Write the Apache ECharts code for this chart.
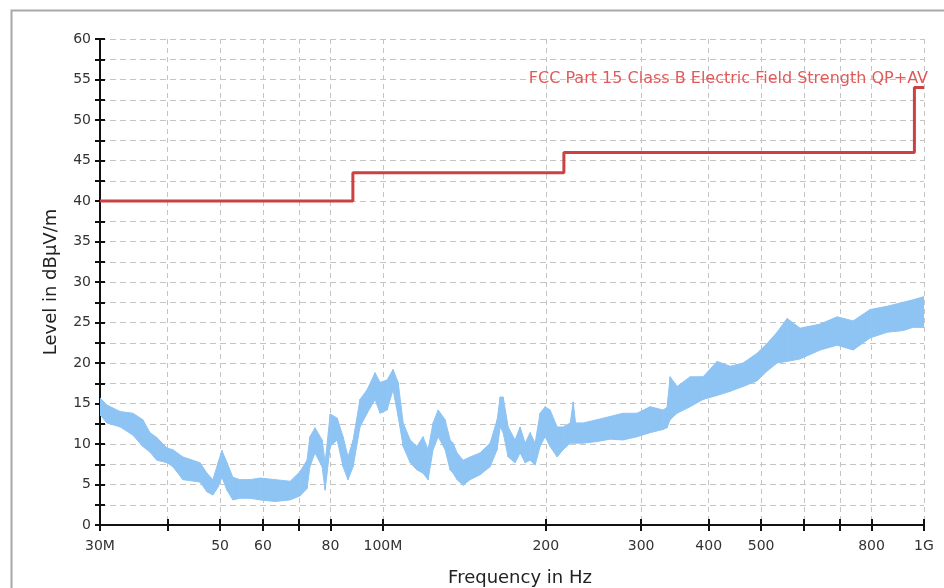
<!DOCTYPE html>
<html><head><meta charset="utf-8">
<script src="https://cdn.jsdelivr.net/npm/echarts@6/dist/echarts.min.js"></script>
<style>html,body{margin:0;padding:0;background:#fff}#c{width:944px;height:588px}</style>
</head><body><div id="c"></div>
<script>
// Measured trace (envelope of the noisy sweep), frequency in MHz, level in dBµV/m
const freqMHz = [30.0,30.9,32.7,34.5,36.0,37.1,38.2,39.9,40.9,42.7,45.9,47.3,48.5,49.6,50.4,51.5,52.8,54.4,56.8,59.3,63.2,67.4,70.3,72.4,73.3,74.9,77.2,78.2,79.9,82.3,84.4,86.2,88.1,90.7,93.5,96.7,98.8,101.8,104.4,106.7,109.0,112.3,115.6,118.6,121.2,123.8,126.5,130.3,133.1,134.8,137.1,140.7,144.9,151.2,157.8,162.6,164.7,166.8,170.4,175.5,179.3,183.2,187.1,191.1,195.2,199.4,203.7,209.9,215.3,222.0,224.7,227.0,234.4,248.8,263.0,277.9,294.9,311.7,329.5,335.0,339.5,349.7,369.6,390.6,414.6,438.2,463.1,491.5,512.9,535.2,558.5,590.3,642.8,691.0,739.7,795.1,854.9,915.2,954.8,1000];
const upperLevel = [15.7,14.8,14.0,13.8,13.0,11.4,10.8,9.5,9.3,8.4,7.7,6.4,5.6,7.7,9.2,7.7,5.9,5.6,5.6,5.8,5.6,5.4,6.6,8.0,10.9,12.0,10.5,7.7,13.7,13.2,10.9,8.4,10.5,15.5,16.7,18.8,17.6,17.9,19.2,17.6,12.6,10.5,9.7,10.9,9.3,12.6,14.2,13.0,10.5,10.1,8.9,8.0,8.4,8.9,10.1,13.0,15.8,15.8,12.1,10.5,12.1,10.1,11.4,10.1,13.8,14.6,14.2,12.1,12.1,12.6,15.2,12.6,12.6,13.0,13.4,13.8,13.8,14.6,14.2,14.5,18.3,17.1,18.3,18.3,20.2,19.6,20.0,21.2,22.4,23.8,25.5,24.3,24.8,25.7,25.2,26.6,27.0,27.5,27.8,28.2];
const lowerLevel = [13.6,12.6,12.1,11.1,9.7,9.0,8.0,7.7,7.2,5.6,5.3,4.1,3.7,4.7,5.9,4.3,3.1,3.3,3.3,3.1,2.9,3.1,3.6,4.5,7.2,8.9,7.2,4.3,9.7,10.5,7.2,5.6,7.2,12.1,13.8,15.5,13.8,14.2,16.7,13.4,9.7,7.7,6.8,6.4,5.6,9.3,10.9,9.3,6.8,6.4,5.6,4.9,5.6,6.2,7.2,9.3,12.1,11.4,8.4,7.7,8.9,7.7,8.0,7.4,9.7,10.9,9.7,8.4,9.3,10.1,10.1,10.1,10.1,10.3,10.6,10.5,10.9,11.4,11.8,12.0,13.0,13.8,14.6,15.5,16.0,16.5,17.1,17.8,19.0,20.0,20.2,20.5,21.6,22.2,21.6,23.1,23.8,24.0,24.4,24.4];

// Limit line
const limitFreq = [30, 88, 88, 216, 216, 960, 960, 1000];
const limitLevel = [40, 40, 43.5, 43.5, 46, 46, 54, 54];
const limitName = 'FCC Part 15 Class B Electric Field Strength QP+AV';

// Axis ticks / labels
const xTickValues = [30, 40, 50, 60, 70, 80, 100, 200, 300, 400, 500, 600, 700, 800, 1000];
const xLabelValues = [30, 50, 60, 80, 100, 200, 300, 400, 500, 800, 1000];
const xLabelText = {30: '30M', 100: '100M', 1000: '1G'};
const yLabelValues = [0, 5, 10, 15, 20, 25, 30, 35, 40, 45, 50, 55, 60];
const xName = 'Frequency in Hz';
const yName = 'Level in dBμV/m';

const FONT = 'DejaVu Sans';
const chart = echarts.init(document.getElementById('c'), null, {renderer: 'canvas'});

const xCommon = {type: 'log', logBase: 10, min: 30, max: 1000, gridIndex: 0, position: 'bottom'};
const yCommon = {type: 'value', min: 0, max: 60, interval: 2.5, gridIndex: 0, position: 'left'};

chart.setOption({
  animation: false,
  backgroundColor: '#ffffff',
  graphic: [{
    type: 'rect', left: 9, top: 8, shape: {width: 960, height: 600},
    style: {fill: 'none', stroke: '#a8a8a8', lineWidth: 2}, silent: true
  }],
  grid: {left: 100, right: 20, top: 39, bottom: 63, containLabel: false, outerBoundsMode: 'none'},
  xAxis: [
    Object.assign({}, xCommon, {
      name: xName, nameLocation: 'middle', nameGap: 44,
      nameTextStyle: {fontFamily: FONT, fontSize: 18, color: '#222', padding: [0, 0, 0, 16]},
      axisLine: {show: true, onZero: false, lineStyle: {color: '#111', width: 2}},
      axisTick: {show: true, inside: false, length: 6, customValues: xTickValues, lineStyle: {color: '#111', width: 2}},
      minorTick: {show: false},
      axisLabel: {show: true, customValues: xLabelValues, margin: 14, fontFamily: FONT, fontSize: 14, color: '#333',
        formatter: v => xLabelText[Math.round(v)] || String(Math.round(v))},
      splitLine: {show: true, lineStyle: {color: '#c4c4c4', type: [5, 4], width: 1}}
    }),
    Object.assign({}, xCommon, {
      axisLine: {show: false, onZero: false},
      axisTick: {show: true, inside: true, length: 6, customValues: xTickValues, lineStyle: {color: '#111', width: 2}},
      axisLabel: {show: false},
      splitLine: {show: false}
    })
  ],
  yAxis: [
    Object.assign({}, yCommon, {
      name: yName, nameLocation: 'middle', nameGap: 40, nameRotate: 90,
      nameTextStyle: {fontFamily: FONT, fontSize: 18, color: '#222'},
      axisLine: {show: true, lineStyle: {color: '#111', width: 2}},
      axisTick: {show: true, inside: false, length: 5, lineStyle: {color: '#111', width: 2}},
      axisLabel: {show: true, customValues: yLabelValues, margin: 9, fontFamily: FONT, fontSize: 14, color: '#333'},
      splitLine: {show: true, lineStyle: {color: '#c4c4c4', type: [6, 4], width: 1}}
    }),
    Object.assign({}, yCommon, {
      axisLine: {show: false},
      axisTick: {show: true, inside: true, length: 5, lineStyle: {color: '#111', width: 2}},
      axisLabel: {show: false},
      splitLine: {show: false}
    })
  ],
  series: [
    {
      name: 'Measurement',
      type: 'custom',
      coordinateSystem: 'cartesian2d',
      xAxisIndex: 0, yAxisIndex: 0,
      clip: true,
      data: freqMHz.map((f, i) => [f, upperLevel[i], lowerLevel[i]]),
      encode: {x: 0, y: [1, 2]},
      renderItem: function (params, api) {
        const i = params.dataIndex;
        if (i >= freqMHz.length - 1) return null;
        const pts = [
          api.coord([freqMHz[i], upperLevel[i]]),
          api.coord([freqMHz[i + 1], upperLevel[i + 1]]),
          api.coord([freqMHz[i + 1], lowerLevel[i + 1]]),
          api.coord([freqMHz[i], lowerLevel[i]])
        ];
        return {type: 'polygon', shape: {points: pts},
          style: {fill: '#8ec4f4', stroke: '#8ec4f4', lineWidth: 1}};
      },
      z: 2
    },
    {
      name: limitName,
      type: 'line',
      xAxisIndex: 0, yAxisIndex: 0,
      data: limitFreq.map((f, i) => [f, limitLevel[i]]),
      symbol: 'none',
      lineStyle: {color: '#cc4141', width: 3},
      markPoint: {
        symbol: 'circle', symbolSize: 0,
        itemStyle: {color: 'rgba(0,0,0,0)'},
        data: [{coord: [limitFreq[limitFreq.length - 1], limitLevel[limitLevel.length - 1]], name: limitName}],
        label: {show: true, position: 'left', distance: 0, offset: [4, -9],
          formatter: limitName, fontFamily: FONT, fontSize: 16, color: '#e05a5a'}
      },
      z: 3
    }
  ]
});
</script>
</body></html>
